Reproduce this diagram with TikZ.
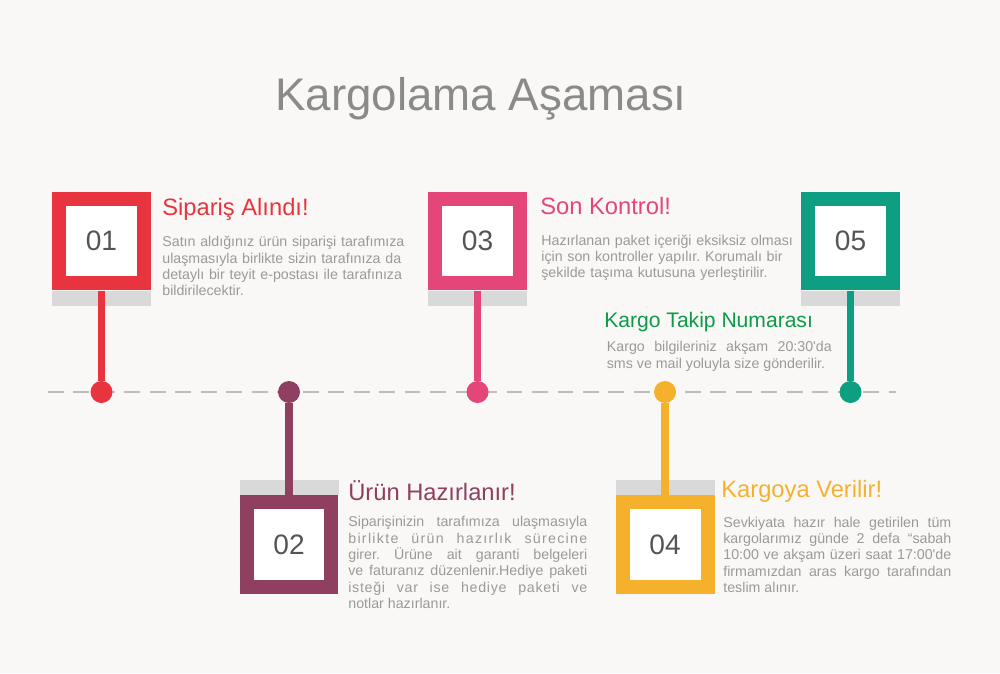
\documentclass[tikz,border=0pt]{standalone}
\usepackage{fontspec}
\setmainfont{Liberation Sans}
\usetikzlibrary{positioning}
\definecolor{cRed}{HTML}{E8343F}
\definecolor{cPlum}{HTML}{8F3F5F}
\definecolor{cPink}{HTML}{E4467A}
\definecolor{cOrange}{HTML}{F6B12C}
\definecolor{cTeal}{HTML}{0E9E82}
\definecolor{cGreen}{HTML}{0F9A4A}
\definecolor{cShadow}{HTML}{D9D9D9}
\definecolor{cDash}{HTML}{BDBDBD}
\definecolor{cText}{HTML}{9A9A9A}
\definecolor{cTitle}{HTML}{8A8A8A}
\definecolor{cNum}{HTML}{555555}
\definecolor{cBg}{HTML}{F9F8F6}
\frenchspacing

\begin{document}
\begin{tikzpicture}[
    x=0.02cm, y=-0.02cm,
    outer/.style={minimum size=1.98cm, inner sep=0pt},
    inner/.style={
        fill=white, minimum size=1.42cm, inner sep=0pt,
        font=\fontsize{16}{19}\selectfont, text=cNum
    },
    stem/.style={line width=4pt},
    dotn/.style={circle, minimum size=0.44cm, inner sep=0pt},
    dashline/.style={draw=cDash, line width=1.6pt, dash pattern=on 9pt off 5.5pt},
    head/.style={anchor=base west, inner sep=0pt, font=\fontsize{13.5}{16}\selectfont},
    body/.style={
        anchor=base west, inner sep=0pt, text=cText,
        font=\fontsize{8.1}{9.3}\selectfont
    },
]

% --- Helper: one step square, #1 name, #2 colour, #3/#4 centre,
% #5 number, #6 side of the gray strip (1 below, -1 above)
\newcommand{\stepsquare}[6]{%
    \fill[cShadow] ({#3-49.5},{#4+50*#6}) rectangle ({#3+49.5},{#4+65*#6});
    \node[outer, fill=#2] (#1) at (#3,#4) {};
    \node[inner] (#1num) at (#1.center) {#5};
}

% background
\fill[cBg] (0,0) rectangle (1000,673);

\node[anchor=base, inner sep=0pt, text=cTitle, font=\fontsize{26}{30}\selectfont]
    (title) at (481,110) {Kargolama Aşaması};

% =============================================
% TIMELINE
% =============================================
\coordinate (lineL) at (48,392);
\coordinate (lineR) at (896,392);
\draw[dashline] (lineL) -- (lineR);

\stepsquare{box1}{cRed}{101.5}{241}{01}{1}
\stepsquare{box2}{cPlum}{289}{544.5}{02}{-1}
\stepsquare{box3}{cPink}{477.5}{241}{03}{1}
\stepsquare{box4}{cOrange}{665}{544.5}{04}{-1}
\stepsquare{box5}{cTeal}{850.5}{241}{05}{1}

\node[dotn, fill=cRed] (dot1) at (101.5,392) {};
\node[dotn, fill=cPlum] (dot2) at (289,392) {};
\node[dotn, fill=cPink] (dot3) at (477.5,392) {};
\node[dotn, fill=cOrange] (dot4) at (665,392) {};
\node[dotn, fill=cTeal] (dot5) at (850.5,392) {};

\draw[stem, cRed] (box1) -- (dot1);
\draw[stem, cPlum] (box2) -- (dot2);
\draw[stem, cPink] (box3) -- (dot3);
\draw[stem, cOrange] (box4) -- (dot4);
\draw[stem, cTeal] (box5) -- (dot5);

% =============================================
% TEXTS
% =============================================

% 01
\node[head, text=cRed] (head1) at (162,215) {Sipariş Alındı!};
\node[body, text width=5.2cm, align=left] (body1) at (162,246.7) {%
    Satın aldığınız ürün siparişi tarafımıza\\
    ulaşmasıyla birlikte sizin tarafınıza da\\
    detaylı bir teyit e-postası ile tarafınıza\\
    bildirilecektir.};

% 02
\node[head, text=cPlum] (head2) at (348,500.5) {Ürün Hazırlanır!};
\node[body, text width=4.78cm, align=justify] (body2) at (348,526.7) {%
    Siparişinizin tarafımıza ulaşmasıyla\linebreak
    {\addfontfeature{LetterSpace=9}birlikte ürün hazırlık sürecine}\linebreak
    girer. Ürüne ait garanti belgeleri\linebreak
    ve faturanız düzenlenir.Hediye paketi\linebreak
    {\addfontfeature{LetterSpace=5}isteği var ise hediye paketi ve}\linebreak
    notlar hazırlanır.};

% 03
\node[head, text=cPink] (head3) at (540,214.3) {Son Kontrol!};
\node[body, text width=5.2cm, align=left] (body3) at (541,245) {%
    Hazırlanan paket içeriği eksiksiz olması\\
    için son kontroller yapılır. Korumalı bir\\
    şekilde taşıma kutusuna yerleştirilir.};

% 04
\node[head, text=cOrange] (head4) at (721,497.3) {Kargoya Verilir!};
\node[body, text width=4.56cm, align=justify] (body4) at (723,527) {%
    Sevkiyata hazır hale getirilen tüm\linebreak
    kargolarımız günde 2 defa “sabah\linebreak
    10:00 ve akşam üzeri saat 17:00\textquotesingle de\linebreak
    firmamızdan aras kargo tarafından\linebreak
    teslim alınır.};

% 05
\node[head, text=cGreen, font=\fontsize{12}{14}\selectfont]
    (head5) at (604,327.7) {Kargo Takip Numarası};
\node[body, text width=4.5cm, align=justify] (body5) at (606.5,351.7) {%
    \parfillskip=0pt
    Kargo bilgileriniz akşam 20:30\textquotesingle da\linebreak
    sms ve mail yoluyla size gönderilir.};

\end{tikzpicture}
\end{document}
